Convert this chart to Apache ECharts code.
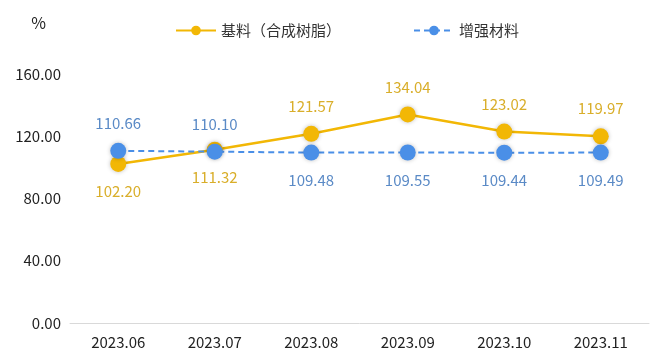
<!DOCTYPE html>
<html><head><meta charset="utf-8">
<script src="https://cdn.jsdelivr.net/npm/echarts@6/dist/echarts.min.js"></script>
<style>html,body{margin:0;padding:0;background:#fff}#c{width:660px;height:359px}</style>
</head><body><div id="c"></div>
<script>
const categories = ['2023.06','2023.07','2023.08','2023.09','2023.10','2023.11'];
const resinValues = [102.20, 111.32, 121.57, 134.04, 123.02, 119.97];
const reinforceValues = [110.66, 110.10, 109.48, 109.55, 109.44, 109.49];
const resinLabelPos = ['bottom','bottom','top','top','top','top'];
const reinforceLabelPos = ['top','top','bottom','bottom','bottom','bottom'];
const yTicks = [0, 40, 80, 120, 160];
const FONT = '"Noto Sans CJK SC", "Noto Sans", sans-serif';
const chart = echarts.init(document.getElementById('c'));
const yellow = '#F2B705', blue = '#4A8FE7';
chart.setOption({
  animation: false,
  textStyle: {fontFamily: FONT},
  legend: {
    top: 18, left: 170, itemGap: 72, itemWidth: 40, itemHeight: 12,
    textStyle: {fontSize: 15, color: '#333', fontFamily: FONT},
    data: ['基料（合成树脂）', '增强材料']
  },
  grid: {left: 70, right: 11, top: 74, bottom: 36},
  xAxis: {
    type: 'category', data: categories, boundaryGap: true,
    axisLine: {lineStyle: {color: '#d9d9d9'}},
    axisTick: {show: false},
    axisLabel: {fontSize: 15, color: '#222', margin: 12, fontFamily: FONT}
  },
  yAxis: {
    type: 'value', min: yTicks[0], max: yTicks[yTicks.length-1], interval: 40,
    name: '%', nameLocation: 'end', nameGap: 43,
    nameTextStyle: {fontSize: 16, color: '#222', align: 'right', padding: [0, 24, 0, 0]},
    axisLine: {show: false}, axisTick: {show: false}, splitLine: {show: false},
    axisLabel: {fontSize: 15, color: '#222', margin: 9, formatter: v => v.toFixed(2), fontFamily: FONT}
  },
  series: [
    {
      name: '基料（合成树脂）', type: 'line',
      data: resinValues.map((v, i) => ({value: v, label: {position: resinLabelPos[i]}})),
      symbol: 'circle', symbolSize: 16,
      lineStyle: {color: yellow, width: 2.5},
      itemStyle: {color: yellow, shadowBlur: 4, shadowColor: 'rgba(0,0,0,0.25)'},
      label: {show: true, fontSize: 15, color: '#D9AE2A', distance: 12, formatter: p => p.value.toFixed(2), fontFamily: FONT},
      z: 2
    },
    {
      name: '增强材料', type: 'line',
      data: reinforceValues.map((v, i) => ({value: v, label: {position: reinforceLabelPos[i]}})),
      symbol: 'circle', symbolSize: 16,
      lineStyle: {color: blue, width: 2, type: [6, 4]},
      itemStyle: {color: blue, shadowBlur: 4, shadowColor: 'rgba(0,0,0,0.25)'},
      label: {show: true, fontSize: 15, color: '#5A8AC6', distance: 12, formatter: p => p.value.toFixed(2), fontFamily: FONT},
      z: 3
    }
  ]
});
</script></body></html>
